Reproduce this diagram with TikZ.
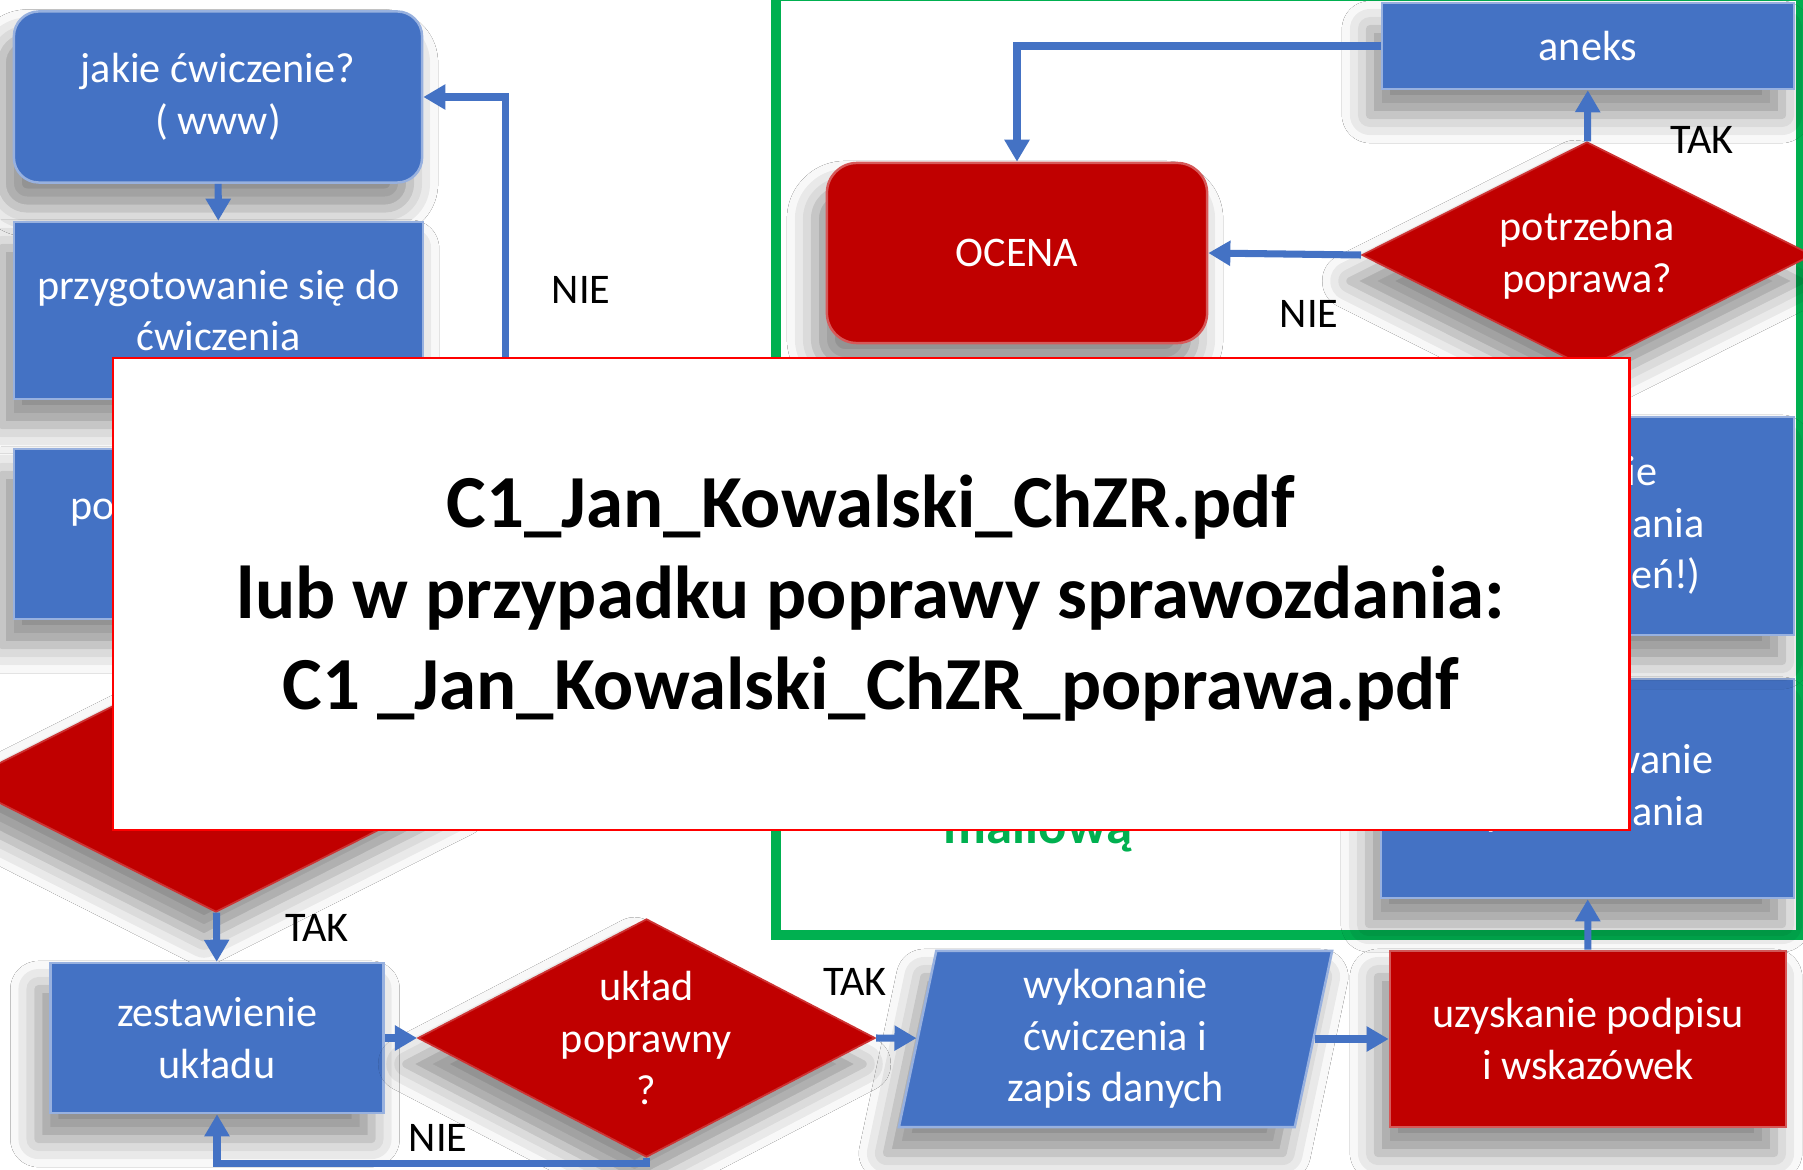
\documentclass[tikz,border=0pt]{standalone}
\usepackage{fontspec}
\setmainfont{Carlito}
\usetikzlibrary{arrows.meta,shapes.geometric,shadows.blur}

\definecolor{boxblue}{HTML}{4472C4}
\definecolor{boxred}{HTML}{C00000}
\definecolor{framegreen}{HTML}{00B050}

\begin{document}
\begin{tikzpicture}[x=0.01cm, y=-0.01cm,
  txt/.style={font=\fontsize{12}{14.7}\selectfont, text=white, align=center, inner sep=0pt},
  shade/.style={blur shadow={shadow xshift=-0.12cm, shadow yshift=-0.26cm, shadow blur radius=0.28cm, shadow opacity=45}},
  bluebox/.style={txt, shade, rectangle, fill=boxblue, draw=boxblue!55!white, line width=0.7pt},
  redbox/.style={txt, shade, rectangle, fill=boxred, draw=boxred!65!white, line width=0.7pt},
  reddiam/.style={txt, shade, diamond, aspect=2, fill=boxred, draw=boxred!80!white, line width=0.5pt},
  flow/.style={draw=boxblue, line width=2pt, -{Triangle[width=0.24cm,length=0.22cm]}},
  lbl/.style={font=\fontsize{12}{14.7}\selectfont, text=black}
]

\useasboundingbox (0,0) rectangle (1803,1170);
\clip (0,0) rectangle (1803,1170);
\fill [white] (0,0) rectangle (1803,1170);

%\draw [help lines] (0,0) grid (1803,1170);

\draw [color=framegreen, line width=2.6pt] (776,-4) rectangle (1801,935);

% left column
\node (jakie) at (218,97) [bluebox, rounded corners=0.25cm, minimum width=4.08cm, minimum height=1.71cm] {jakie ćwiczenie?\\( www)};
\node (przyg) at (218.5,310.5) [bluebox, minimum width=4.09cm, minimum height=1.77cm] {przygotowanie się do\\ćwiczenia};
\node (pojaw) at (218.5,534) [bluebox, minimum width=4.09cm, minimum height=1.70cm] {pojawienie się na\\zajęciach};
\node (dec1) at (216,783) [reddiam, minimum width=5.12cm, minimum height=2.58cm] {};

% bottom row
\node (zest) at (217,1038) [bluebox, minimum width=3.33cm, minimum height=1.50cm] {zestawienie\\układu};
\node (uklad) at (646.5,1038) [reddiam, minimum width=4.57cm, minimum height=2.38cm] {układ\\poprawny\\?};
\node (wyk) at (1115.5,1039) [txt, shade, trapezium, trapezium left angle=75, trapezium right angle=105,
  trapezium stretches body, fill=boxblue, draw=boxblue!55!white, line width=0.7pt,
  minimum width=4.33cm, minimum height=1.76cm] {wykonanie\\ćwiczenia i\\zapis danych};
\node (uzy) at (1588,1039) [redbox, minimum width=3.96cm, minimum height=1.76cm] {uzyskanie podpisu\\i wskazówek};

% right column
\node (przsp) at (1587.5,788.5) [bluebox, minimum width=4.13cm, minimum height=2.19cm] {przygotowanie\\sprawozdania};
\node (odd) at (1587.5,526) [bluebox, minimum width=4.13cm, minimum height=2.18cm] {oddanie\\sprawozdania\\(wg zaleceń!)};
\node (potrz) at (1587,255) [reddiam, minimum width=4.50cm, minimum height=2.26cm] {potrzebna\\poprawa?};
\node (aneks) at (1588,46) [bluebox, minimum width=4.12cm, minimum height=0.86cm] {aneks};
\node (ocena) at (1017,253) [redbox, rounded corners=0.3cm, minimum width=3.80cm, minimum height=1.80cm] {OCENA};

\draw [flow] (jakie) -- (przyg);
\draw [flow] (przyg) -- (pojaw);
\draw [flow] (pojaw) -- (dec1);
\draw [flow] (dec1) -- (zest);
\draw [flow] (dec1.east) -- ++(32,0) |- (jakie.east);

\draw [flow] (zest) -- (uklad);
\draw [flow] (uklad.south) -- ++(0,6) -| (zest.south);
\draw [flow] (uklad.east) -- (wyk);
\draw [flow] (wyk) -- (uzy);
\draw [flow] (uzy) -- (przsp);
\draw [flow] (przsp) -- (odd);
\draw [flow] (odd) -- (potrz);
\draw [flow] (potrz) -- (aneks);
\draw [flow] (potrz.west) -- (ocena.east);
\draw [flow] (aneks.west) -| (ocena.north);

\node (nie1) at (581,290) [lbl] {NIE};
\node (tak1) at (317,928) [lbl] {TAK};
\node (nie2) at (438,1138) [lbl] {NIE};
\node (tak2) at (855,982) [lbl] {TAK};
\node (tak3) at (1702,140) [lbl] {TAK};
\node (nie3) at (1309,314) [lbl] {NIE};

\node (mail) at (1038,843) [anchor=base, font=\fontsize{15}{18}\selectfont\bfseries, text=framegreen] {mailową};

% note on top
\node (note) at (871,594) [rectangle, fill=white, draw=red, line width=0.6pt, minimum width=15.16cm, minimum height=4.72cm] {};
\node (notetext) at (871,598) [font=\fontsize{21.3}{25.8}\selectfont\bfseries, align=center]
  {C1\_Jan\_Kowalski\_ChZR.pdf\\lub w przypadku poprawy sprawozdania:\\C1 \_Jan\_Kowalski\_ChZR\_poprawa.pdf};

\end{tikzpicture}
\end{document}
